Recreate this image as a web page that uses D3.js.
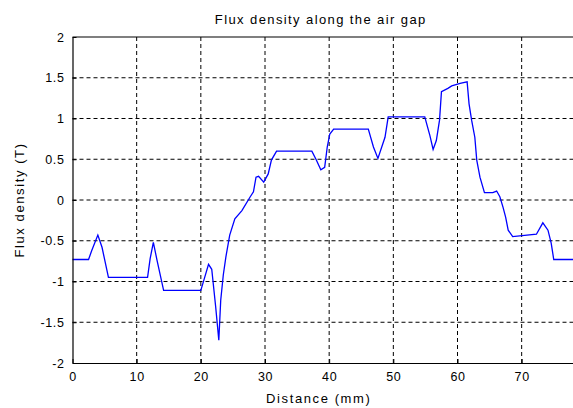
<!DOCTYPE html>
<html>
<head>
<meta charset="utf-8">
<script src="https://cdn.jsdelivr.net/npm/d3@7"></script>
<style>
  body { margin: 0; background: #fff; }
  text { font-family: "Liberation Sans", Arial, sans-serif; fill: #000; }
</style>
</head>
<body>
<svg id="chart"></svg>
<script>
// distance along the air gap (mm)
const distance = [0, 2.5, 3.0, 3.95, 4.6, 5.6, 11.7, 12.1, 12.6, 13.2, 14.2, 20.0, 20.6, 21.2, 21.7,
  22.3, 22.8, 23.1, 23.5, 23.9, 24.5, 25.3, 26.4, 27.7, 28.2, 28.6, 29.0, 29.8, 30.5, 31.0, 31.8,
  37.3, 38.0, 38.7, 39.3, 39.7, 40.1, 40.7, 46.1, 46.9, 47.6, 48.7, 49.2, 54.9, 55.7, 56.2, 56.7,
  57.2, 57.5, 58.5, 59.1, 60.4, 61.5, 61.8, 62.2, 62.7, 63.0, 63.5, 64.2, 65.5, 66.1, 66.6, 67.1,
  67.5, 67.9, 68.6, 72.3, 73.3, 74.1, 74.6, 75.0, 78.0];
// flux density (T)
const flux = [-0.73, -0.73, -0.62, -0.43, -0.58, -0.95, -0.95, -0.72, -0.52, -0.75, -1.11, -1.11, -0.95, -0.79, -0.85,
  -1.3, -1.72, -1.23, -0.92, -0.70, -0.43, -0.23, -0.13, 0.04, 0.10, 0.28, 0.29, 0.22, 0.32, 0.49, 0.60,
  0.60, 0.49, 0.37, 0.40, 0.65, 0.81, 0.87, 0.87, 0.65, 0.51, 0.77, 1.02, 1.02, 0.79, 0.62, 0.73,
  0.98, 1.33, 1.37, 1.40, 1.43, 1.45, 1.18, 0.98, 0.77, 0.49, 0.28, 0.09, 0.09, 0.11, 0.04, -0.09,
  -0.21, -0.37, -0.45, -0.42, -0.28, -0.37, -0.53, -0.73, -0.73];

const xTicks = [0, 10, 20, 30, 40, 50, 60, 70];
const yTicks = [-2, -1.5, -1, -0.5, 0, 0.5, 1, 1.5, 2];

const width = 573, height = 408;
const margin = { top: 37, right: 0, bottom: 45, left: 72.5 };
const chartWidth = width - margin.left - margin.right;
const chartHeight = height - margin.top - margin.bottom;

const svg = d3.select("#chart")
  .attr("width", width)
  .attr("height", height)
  .attr("viewBox", `0 0 ${width} ${height}`);

const g = svg.append("g")
  .attr("transform", `translate(${margin.left},${margin.top})`);

const x = d3.scaleLinear().domain([0, 78]).range([0, chartWidth]);
const y = d3.scaleLinear().domain([-2, 2]).range([chartHeight, 0]);

// grid
g.append("g")
  .selectAll("line")
  .data(xTicks.filter(d => d > 0))
  .join("line")
  .attr("x1", d => x(d)).attr("x2", d => x(d))
  .attr("y1", 0).attr("y2", chartHeight)
  .attr("stroke", "#000").attr("stroke-dasharray", "4,3");

g.append("g")
  .selectAll("line")
  .data(yTicks.filter(d => d > -2 && d < 2))
  .join("line")
  .attr("x1", 0).attr("x2", chartWidth)
  .attr("y1", d => y(d)).attr("y2", d => y(d))
  .attr("stroke", "#000").attr("stroke-dasharray", "4,3");

// curve
const points = distance.map((d, i) => [d, flux[i]]);
g.append("path")
  .datum(points)
  .attr("fill", "none")
  .attr("stroke", "#0000ff")
  .attr("stroke-width", 1.3)
  .attr("d", d3.line().x(d => x(d[0])).y(d => y(d[1])));

// axes (ticks point inward like matlab)
const xAxis = g.append("g")
  .attr("transform", `translate(0,${chartHeight})`)
  .call(d3.axisBottom(x).tickValues(xTicks).tickSizeInner(-4).tickSizeOuter(0).tickPadding(9));
const yAxis = g.append("g")
  .call(d3.axisLeft(y).tickValues(yTicks).tickFormat(d => String(d)).tickSizeInner(-4).tickSizeOuter(0).tickPadding(8));

[xAxis, yAxis].forEach(a => {
  a.select(".domain").attr("stroke", "#000").attr("stroke-width", 1.2);
  a.selectAll("text")
    .style("font-size", "12.5px")
    .style("letter-spacing", "0.6px")
    .style("font-family", "Liberation Sans, Arial, sans-serif");
});

// top border
g.append("line")
  .attr("x1", 0).attr("x2", chartWidth)
  .attr("y1", 0).attr("y2", 0)
  .attr("stroke", "#000").attr("stroke-width", 1.2);

// labels
svg.append("text")
  .attr("x", margin.left + chartWidth / 2 - 2)
  .attr("y", 24)
  .attr("text-anchor", "middle")
  .style("font-size", "13px")
  .style("letter-spacing", "1.4px")
  .text("Flux density along the air gap");

svg.append("text")
  .attr("x", margin.left + chartWidth / 2 - 4)
  .attr("y", 403)
  .attr("text-anchor", "middle")
  .style("font-size", "13px")
  .style("letter-spacing", "1.6px")
  .text("Distance (mm)");

svg.append("text")
  .attr("transform", `translate(24,${margin.top + chartHeight / 2}) rotate(-90)`)
  .attr("text-anchor", "middle")
  .style("font-size", "13px")
  .style("letter-spacing", "1.6px")
  .text("Flux density (T)");
</script>
</body>
</html>
